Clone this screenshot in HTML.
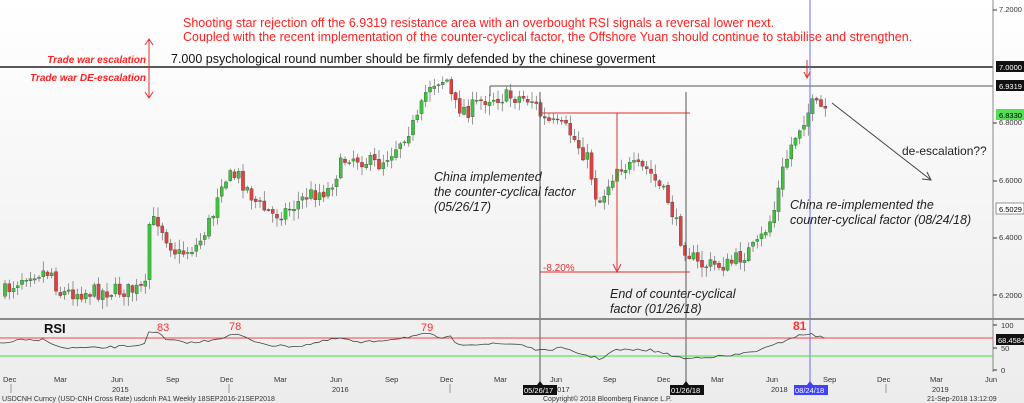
<!DOCTYPE html>
<html><head><meta charset="utf-8"><style>
html,body{margin:0;padding:0;background:#f2f2f2;}
svg{display:block;font-family:"Liberation Sans",sans-serif;}
</style></head><body>
<svg id="s" width="1024" height="403" xmlns="http://www.w3.org/2000/svg">
<defs><linearGradient id="bg" x1="0" y1="0" x2="0" y2="1"><stop offset="0" stop-color="#ffffff"/><stop offset="1" stop-color="#ececec"/></linearGradient></defs>
<rect width="1024" height="403" fill="url(#bg)"/>
<g id="cd"></g>
<line x1="0" y1="67" x2="993" y2="67" stroke="#222" stroke-width="1.5"/>
<line x1="490" y1="86" x2="993" y2="86" stroke="#555" stroke-width="1"/>
<line x1="490" y1="86" x2="490" y2="96" stroke="#555"/>
<line x1="540" y1="113" x2="690" y2="113" stroke="#e03030"/>
<line x1="540" y1="272" x2="690" y2="272" stroke="#e03030"/>
<line x1="617" y1="113" x2="617" y2="270" stroke="#e03030"/>
<path d="M613,264 L617,272 L621,264" fill="none" stroke="#e03030"/>
<text x="543" y="271" font-size="10" fill="#e03030">-8.20%</text>
<line x1="540" y1="92" x2="540" y2="388" stroke="#555"/>
<line x1="686" y1="92" x2="686" y2="388" stroke="#555"/>
<line x1="810" y1="0" x2="810" y2="388" stroke="#6c6cff"/>
<line x1="993" y1="0" x2="993" y2="372" stroke="#888"/>
<line x1="0" y1="319" x2="1024" y2="319" stroke="#888" stroke-width="2"/>
<line x1="149" y1="40" x2="149" y2="97" stroke="#e03030"/>
<path d="M145,45 L149,39 L153,45 M145,92 L149,98 L153,92" fill="none" stroke="#e03030"/>
<line x1="807" y1="60" x2="807" y2="78" stroke="#e03030"/>
<path d="M804,72 L807,78 L810,72" fill="none" stroke="#e03030"/>
<line x1="832" y1="103" x2="931" y2="180" stroke="#444"/>
<path d="M922,179 L931,180 L927,172" fill="none" stroke="#444"/>
<text x="183" y="27" font-size="12.5" fill="#ff2020">Shooting star rejection off the 6.9319 resistance area with an overbought RSI signals a reversal lower next.</text>
<text x="183" y="41" font-size="12.5" fill="#ff2020">Coupled with the recent implementation of the counter-cyclical factor, the Offshore Yuan should continue to stabilise and strengthen.</text>
<text x="146" y="63" font-size="10" font-weight="bold" font-style="italic" fill="#ff2020" text-anchor="end">Trade war escalation</text>
<text x="146" y="81" font-size="10" font-weight="bold" font-style="italic" fill="#ff2020" text-anchor="end">Trade war DE-escalation</text>
<text x="171" y="63" font-size="12.5" fill="#111">7.000 psychological round number should be firmly defended by the chinese goverment</text>
<text x="434" y="181" font-size="12.5" font-style="italic" fill="#222">China implemented</text>
<text x="434" y="196" font-size="12.5" font-style="italic" fill="#222">the counter-cyclical factor</text>
<text x="434" y="211" font-size="12.5" font-style="italic" fill="#222">(05/26/17)</text>
<text x="610" y="298" font-size="12.5" font-style="italic" fill="#222">End of counter-cyclical</text>
<text x="610" y="313" font-size="12.5" font-style="italic" fill="#222">factor (01/26/18)</text>
<text x="790" y="209" font-size="12.5" font-style="italic" fill="#222">China re-implemented the</text>
<text x="790" y="224" font-size="12.5" font-style="italic" fill="#222">counter-cyclical factor (08/24/18)</text>
<text x="902" y="155" font-size="12" fill="#222">de-escalation??</text>
<g font-size="7.5" fill="#333">
<text x="999" y="12">7.2000</text><text x="999" y="125">6.8000</text><text x="999" y="183">6.6000</text><text x="999" y="240">6.4000</text><text x="999" y="298">6.2000</text>
<text x="1001" y="328">100</text><text x="1001" y="351">50</text><text x="1001" y="373">0</text>
</g>
<g stroke="#333"><line x1="993" y1="10" x2="997" y2="10"/><line x1="993" y1="123" x2="997" y2="123"/><line x1="993" y1="181" x2="997" y2="181"/><line x1="993" y1="238" x2="997" y2="238"/><line x1="993" y1="295" x2="997" y2="295"/><line x1="993" y1="325" x2="997" y2="325"/><line x1="993" y1="348" x2="997" y2="348"/><line x1="993" y1="370" x2="997" y2="370"/></g>
<rect x="996" y="61" width="28" height="11" fill="#111"/><text x="999" y="70" font-size="7.5" fill="#fff">7.0000</text>
<rect x="996" y="80" width="28" height="11" fill="#111"/><text x="999" y="89" font-size="7.5" fill="#fff">6.9319</text>
<rect x="996" y="109" width="28" height="11" fill="#55dd55"/><text x="999" y="118" font-size="7.5" fill="#000">6.8330</text>
<rect x="996" y="203" width="28" height="11" fill="#fff" stroke="#333" stroke-width=".5"/><text x="999" y="212" font-size="7.5" fill="#000">6.5029</text>
<rect x="996" y="334" width="28" height="11" fill="#111"/><text x="998" y="343" font-size="7.5" fill="#fff">68.4584</text>
<text x="44" y="333" font-size="13" font-weight="bold" fill="#111">RSI</text>
<line x1="0" y1="338" x2="993" y2="338" stroke="#ff4040"/>
<line x1="0" y1="356" x2="993" y2="356" stroke="#40e040"/>
<g id="rsi"></g>
<g font-size="11" fill="#ff3030"><text x="157" y="331">83</text><text x="229" y="330">78</text><text x="421" y="331">79</text><text x="793" y="330" font-weight="bold" font-size="12">81</text></g>
<g font-size="7.5" fill="#333" id="xa"></g>
<g font-size="7.5" fill="#333"><text x="112" y="392">2015</text><text x="332" y="392">2016</text><text x="771" y="392">2018</text><text x="932" y="392">2019</text><text x="553" y="392">2017</text></g>
<g stroke="#999"><line x1="11" y1="384" x2="11" y2="393"/><line x1="229" y1="384" x2="229" y2="393"/><line x1="450" y1="384" x2="450" y2="393"/><line x1="886" y1="384" x2="886" y2="393"/></g>
<rect x="523" y="385" width="34" height="10" fill="#111"/><text x="524" y="393" font-size="7.5" fill="#fff">05/26/17</text>
<rect x="670" y="385" width="34" height="10" fill="#111"/><text x="671" y="393" font-size="7.5" fill="#fff">01/26/18</text>
<rect x="794" y="385" width="34" height="10" fill="#4040ff"/><text x="795" y="393" font-size="7.5" fill="#fff">08/24/18</text>
<path d="M537,385 L540,381 L543,385Z M683,385 L686,381 L689,385Z" fill="#111"/><path d="M807,385 L810,381 L813,385Z" fill="#4040ff"/>
<text x="2" y="401" font-size="7" fill="#333">USDCNH Curncy (USD-CNH Cross Rate) usdcnh PA1  Weekly 18SEP2016-21SEP2018</text>
<text x="543" y="401" font-size="7" fill="#333">Copyright© 2018 Bloomberg Finance L.P.</text>
<text x="927" y="401" font-size="7" fill="#333">21-Sep-2018 13:12:09</text>
</svg>
<script>
var NS="http://www.w3.org/2000/svg";
function el(t,a,p){var e=document.createElementNS(NS,t);for(var k in a)e.setAttribute(k,a[k]);p.appendChild(e);return e;}
var K=[[3,295],[30,272],[55,272],[60,293],[140,290],[148,288],[150,225],[160,220],[170,240],[180,255],[200,245],[215,215],[222,180],[240,175],[250,190],[260,205],[275,215],[290,210],[310,195],[330,190],[340,170],[350,155],[365,160],[380,165],[395,150],[410,130],[420,120],[430,85],[440,80],[450,80],[455,105],[470,110],[490,97],[520,97],[535,100],[545,120],[570,130],[590,160],[600,205],[610,185],[620,165],[650,170],[670,200],[685,245],[700,265],[730,265],[760,245],[775,215],[785,170],[795,140],[805,120],[815,105],[826,110]];
function iy(x,A){for(var i=1;i<A.length;i++){if(x<=A[i][0]){var a=A[i-1],b=A[i];return a[1]+(b[1]-a[1])*(x-a[0])/(b[0]-a[0]);}}return A[A.length-1][1];}
var seed=7;function r(){seed=(seed*16807)%2147483647;return seed/2147483647;}
var g=document.getElementById('cd');var prev=iy(3,K);
for(var x=5;x<=826;x+=4.25){var c=iy(x+2,K)+(r()-0.5)*16;var o=prev+(r()-0.5)*3;var hi=Math.min(o,c)-1-r()*9,lo=Math.max(o,c)+1+r()*9;
var col=c<o?'#3cc23c':'#e04040';
el('line',{x1:x,y1:hi,x2:x,y2:lo,stroke:'#555','stroke-width':0.6},g);
el('rect',{x:x-1.6,y:Math.min(o,c),width:3.2,height:Math.max(1,Math.abs(o-c)),fill:col,stroke:'#333','stroke-width':0.3},g);prev=c;}
var R=[[0,344],[20,340],[35,341],[45,339],[60,348],[100,348],[140,345],[145,342],[148,333],[160,333],[165,340],[195,343],[220,338],[237,334],[250,340],[275,346],[300,346],[340,338],[360,343],[400,338],[428,334],[440,338],[452,337],[455,344],[520,344],[540,351],[560,348],[600,359],[615,350],[650,350],[686,359],[700,357],[730,356],[760,350],[775,345],[790,338],[810,333],[815,337],[823,336],[826,339]];
var pts=[];for(var x=0;x<=826;x+=4.25){pts.push(x+','+(iy(x,R)+(r()-0.5)*2.5).toFixed(1));}
el('polyline',{points:pts.join(' '),fill:'none',stroke:'#444','stroke-width':0.8},document.getElementById('rsi'));
var xa=document.getElementById('xa');
var M=[[3,'Dec'],[54,'Mar'],[111,'Jun'],[166,'Sep'],[220,'Dec'],[274,'Mar'],[330,'Jun'],[385,'Sep'],[440,'Dec'],[494,'Mar'],[550,'Jun'],[603,'Sep'],[657,'Dec'],[711,'Mar'],[766,'Jun'],[823,'Sep'],[877,'Dec'],[930,'Mar'],[985,'Jun']];
M.forEach(function(m){var t=el('text',{x:m[0],y:382},xa);t.textContent=m[1];});
</script>
</body></html>
